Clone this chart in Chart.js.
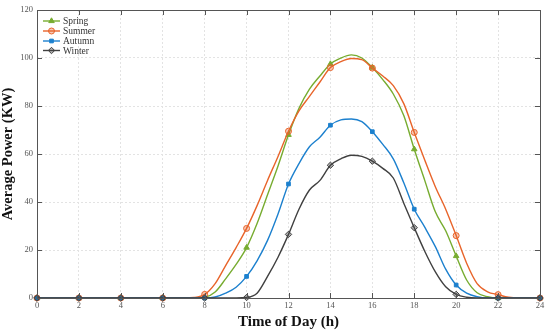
<!DOCTYPE html>
<html>
<head>
<meta charset="utf-8">
<script src="https://cdn.jsdelivr.net/npm/chart.js@4.4.1/dist/chart.umd.min.js"></script>
<style>
html,body{margin:0;padding:0;background:#fff;}
#wrap{width:550px;height:331px;position:relative;}
</style>
</head>
<body>
<div id="wrap"><canvas id="c"></canvas></div>
<script>
const hours = [0,2,4,6,7,7.5,8,8.5,9,9.5,10,10.5,11,11.5,12,12.5,13,13.5,14,14.5,15,15.5,16,16.5,17,17.5,18,18.5,19,19.5,20,20.5,21,21.5,22,22.5,23,24];
const spring = [0,0,0,0,0,0,0.3,2.5,8,14,21,31,43,55,68,79,87,92.5,97.5,100,101.3,100,96,91,85,76,62,49,36,28,17.5,7.5,2.2,0.5,0,0,0,0];
const summer = [0,0,0,0,0,0.2,1.5,6,13.5,21,29,38.5,49,59,69.5,78,84,90,96,98.5,99.8,99.3,95.8,92.5,88.5,81,69,57.5,46.5,37,26,14.5,6,2.6,1.4,0.3,0,0];
const autumn = [0,0,0,0,0,0,0,0.4,2,4.5,9,15.5,24,35,47.5,56,63,67,72,74.2,74.6,73.5,69.3,64,58,48,37,29.5,21.5,12,5.4,2,0.5,0,0,0,0,0];
const winter = [0,0,0,0,0,0,0,0,0,0,0.2,2,9,17,26.5,37,45,49,55.3,58,59.5,59,57,54,50,39.5,29.3,19.5,11,4.7,1.5,0.3,0,0,0,0,0,0];
const seriesNames = ['Spring','Summer','Autumn','Winter'];
const xTicks = [0,2,4,6,8,10,12,14,16,18,20,22,24];
const yTicks = [0,20,40,60,80,100,120];

const colors = ['#77AC30','#E8642A','#1C80CE','#404040'];
const fills = ['#77AC30','rgba(232,100,42,0.35)','#1C80CE','rgba(64,64,64,0.4)'];
const styles = ['triangle','circle','rect','rectRot'];
const radii = [3.2,3,2.6,3.2];
const allSeries = [spring,summer,autumn,winter];

function pts(arr){ return hours.map((h,i)=>({x:h,y:arr[i]})); }

const datasets = allSeries.map((arr,k)=>({
  label: seriesNames[k],
  data: pts(arr),
  borderColor: colors[k],
  backgroundColor: fills[k],
  borderWidth: 1.4,
  pointStyle: styles[k],
  pointRadius: ctx => (hours[ctx.dataIndex] % 2 === 0) ? radii[k] : 0,
  pointBorderWidth: 1,
  pointBorderColor: colors[k],
  pointBackgroundColor: fills[k],
  cubicInterpolationMode: 'monotone',
  clip: false,
  order: 4-k
}));

const frame = {
  id:'frame',
  afterDraw(chart){
    const {ctx, chartArea:a, scales:{x,y}} = chart;
    ctx.save();
    ctx.strokeStyle = '#555';
    ctx.lineWidth = 1;
    ctx.strokeRect(Math.round(a.left)+0.5, Math.round(a.top)+0.5, Math.round(a.right-a.left), Math.round(a.bottom-a.top));
    ctx.beginPath();
    xTicks.forEach(v=>{
      const px = Math.round(x.getPixelForValue(v))+0.5;
      ctx.moveTo(px,a.bottom); ctx.lineTo(px,a.bottom-5);
      ctx.moveTo(px,a.top); ctx.lineTo(px,a.top+5);
    });
    yTicks.forEach(v=>{
      const py = Math.round(y.getPixelForValue(v))+0.5;
      ctx.moveTo(a.left,py); ctx.lineTo(a.left+5,py);
      ctx.moveTo(a.right,py); ctx.lineTo(a.right-5,py);
    });
    ctx.stroke();
    // legend
    ctx.font = '9.5px "Liberation Serif", "DejaVu Serif", serif';
    ctx.textBaseline = 'middle';
    ctx.textAlign = 'left';
    const ly = [21,31,41,50.5];
    seriesNames.forEach((n,k)=>{
      ctx.strokeStyle = colors[k];
      ctx.lineWidth = 1.4;
      ctx.beginPath(); ctx.moveTo(43,ly[k]); ctx.lineTo(60,ly[k]); ctx.stroke();
      ctx.fillStyle = fills[k];
      ctx.lineWidth = 1;
      Chart.helpers.drawPoint(ctx,{pointStyle:styles[k],radius:radii[k],borderWidth:1},51.5,ly[k]);
      ctx.fillStyle = '#333';
      ctx.fillText(n,63,ly[k]+0.5);
    });
    ctx.restore();
  }
};

new Chart(document.getElementById('c'),{
  type:'line',
  data:{datasets},
  options:{
    responsive:true,
    maintainAspectRatio:false,
    animation:false,
    layout:{padding:{top:10,right:10,left:0,bottom:0}},
    plugins:{legend:{display:false},tooltip:{enabled:false}},
    scales:{
      x:{
        type:'linear', min:0, max:24,
        afterBuildTicks: s => { s.ticks = xTicks.map(v=>({value:v})); },
        afterFit: s => { s.height = 33; },
        grid:{color:'#e3e3e3', borderDash:[2,2], drawTicks:false, tickLength:0},
        border:{display:false, dash:[2,2]},
        ticks:{color:'#555', padding:3, font:{family:'"Liberation Serif", serif', size:8.5}, maxRotation:0},
        title:{display:true, text:'Time of Day (h)', color:'#111', padding:{top:0,bottom:0}, font:{family:'"Liberation Serif", serif', size:15, weight:'bold'}}
      },
      y:{
        type:'linear', min:0, max:120,
        afterBuildTicks: s => { s.ticks = yTicks.map(v=>({value:v})); },
        afterFit: s => { s.width = 37; },
        grid:{color:'#e3e3e3', drawTicks:false, tickLength:0},
        border:{display:false, dash:[2,2]},
        ticks:{color:'#555', padding:4, font:{family:'"Liberation Serif", serif', size:8.5}},
        title:{display:true, text:'Average Power (KW)', color:'#111', padding:{top:0,bottom:4}, font:{family:'"Liberation Serif", serif', size:14.5, weight:'bold'}}
      }
    }
  },
  plugins:[frame]
});
</script>
</body>
</html>
